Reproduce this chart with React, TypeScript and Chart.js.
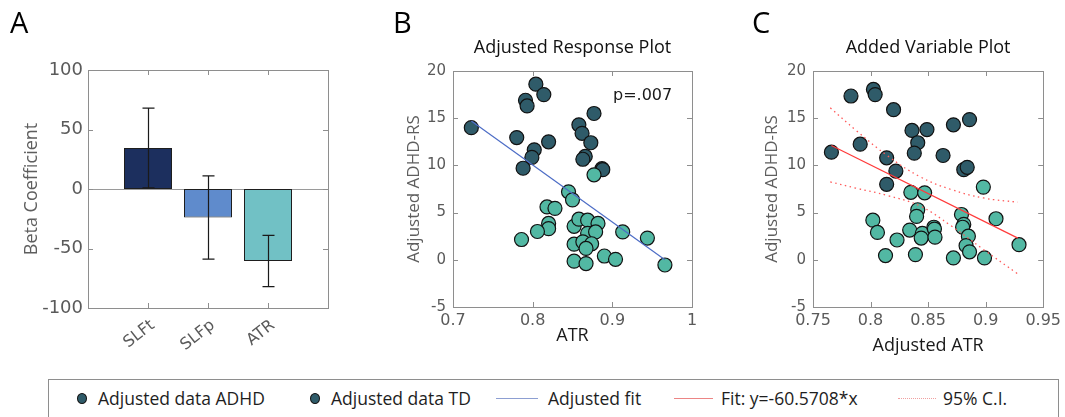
import React, { useEffect, useRef } from "react";
import { Chart, registerables } from "chart.js";
Chart.register(...registerables);

// ---------- Panel A data ----------
const barLabels = ["", "SLFt", "SLFp", "ATR", ""];
const betaValues = [null, 34.5, -24, -60.5, null];
const betaErrLow = [null, 1, -59, -82, null];
const betaErrHigh = [null, 68, 11, -39, null];
const barColors = ["#1c2f5e", "#1c2f5e", "#5f8bcc", "#71c1c5", "#71c1c5"];
const betaTicks = [-100, -50, 0, 50, 100];

// ---------- Panel B data (Adjusted Response Plot) ----------
const respAdhdX = [0.723, 0.804, 0.814, 0.791, 0.793, 0.78, 0.82, 0.802, 0.799, 0.788, 0.877, 0.858, 0.862, 0.873, 0.866, 0.863, 0.887, 0.888];
const respAdhdY = [14.0, 18.6, 17.5, 16.9, 16.3, 12.95, 12.5, 11.65, 10.85, 9.7, 15.5, 14.3, 13.4, 12.4, 10.95, 10.65, 9.65, 9.55];
const respTdX = [0.877, 0.845, 0.85, 0.818, 0.828, 0.82, 0.82, 0.806, 0.786, 0.852, 0.858, 0.869, 0.882, 0.869, 0.879, 0.852, 0.863, 0.874, 0.867, 0.852, 0.867, 0.89, 0.904, 0.913, 0.944, 0.966];
const respTdY = [9.0, 7.2, 6.35, 5.6, 5.45, 3.85, 3.3, 3.0, 2.15, 3.55, 4.3, 4.2, 3.85, 2.8, 2.95, 1.65, 1.9, 1.7, 1.2, -0.15, -0.4, 0.4, 0.05, 2.95, 2.3, -0.55];
const respFitX = [0.723, 0.966];
const respFitY = [14.7, 0.0];
const respXTicks = [0.7, 0.8, 0.9, 1];
const respYTicks = [-5, 0, 5, 10, 15, 20];
const pValueText = "p=.007";

// ---------- Panel C data (Added Variable Plot) ----------
const addedAdhdX = [0.766, 0.783, 0.791, 0.8025, 0.804, 0.82, 0.814, 0.822, 0.814, 0.836, 0.849, 0.841, 0.838, 0.863, 0.872, 0.886, 0.881, 0.884];
const addedAdhdY = [11.4, 17.35, 12.25, 18.05, 17.5, 15.9, 10.8, 9.4, 8.0, 13.7, 13.8, 12.4, 11.3, 11.05, 14.3, 14.85, 9.55, 9.8];
const addedTdX = [0.898, 0.835, 0.847, 0.841, 0.84, 0.802, 0.806, 0.823, 0.813, 0.839, 0.834, 0.845, 0.844, 0.855, 0.8555, 0.856, 0.879, 0.881, 0.88, 0.885, 0.883, 0.886, 0.872, 0.899, 0.909, 0.929];
const addedTdY = [7.7, 7.15, 7.1, 5.3, 4.6, 4.2, 2.9, 2.1, 0.45, 0.55, 3.15, 2.8, 2.3, 3.45, 3.25, 2.4, 4.8, 3.75, 3.45, 2.5, 1.5, 0.85, 0.2, 0.2, 4.35, 1.6];
const addedFitX = [0.766, 0.928];
const addedFitY = [12.1, 2.3];
const ciX = [0.765, 0.787, 0.815, 0.843, 0.87, 0.898, 0.928];
const ciUpper = [16.1, 13.75, 11.0, 8.8, 7.45, 6.55, 6.1];
const ciLower = [8.25, 7.6, 6.8, 5.7, 3.6, 1.1, -1.5];
const addedXTicks = [0.75, 0.8, 0.85, 0.9, 0.95];
const addedYTicks = [-5, 0, 5, 10, 15, 20];

// ---------- Legend ----------
const legendLabels = ["Adjusted data ADHD", "Adjusted data TD", "Adjusted fit", "Fit: y=-60.5708*x", "95% C.I."];

// ---------- styles ----------
const FRAME = "#8e8e8e";
const TICK_TEXT = "#5a5a5a";
const ADHD_COLOR = "#2f5b69";
const TD_COLOR = "#52b8a3";
const POINT_EDGE = "#121212";
const BLUE_FIT = "#4d6dc6";
const RED_FIT = "#ff3b3b";
const UI_FONT = "'Open Sans', 'Noto Sans', sans-serif";
const NUM_FONT = "'DejaVu Sans', sans-serif";

const zip = (xs: number[], ys: number[]) => xs.map((x, i) => ({ x, y: ys[i] }));

function frameTicksPlugin(tickLen: number) {
  return {
    id: "frameTicks",
    afterDatasetsDraw(chart: any) {
      const { ctx, chartArea: a, scales } = chart;
      const xs = scales.x;
      const ys = scales.y;
      ctx.save();
      ctx.strokeStyle = FRAME;
      ctx.lineWidth = 1;
      ctx.beginPath();
      xs.ticks.forEach((_t: any, i: number) => {
        const px = Math.round(xs.getPixelForTick(i)) + 0.5;
        ctx.moveTo(px, a.bottom);
        ctx.lineTo(px, a.bottom - tickLen);
        ctx.moveTo(px, a.top);
        ctx.lineTo(px, a.top + tickLen);
      });
      ys.ticks.forEach((_t: any, i: number) => {
        const py = Math.round(ys.getPixelForTick(i)) + 0.5;
        ctx.moveTo(a.left, py);
        ctx.lineTo(a.left + tickLen, py);
        ctx.moveTo(a.right, py);
        ctx.lineTo(a.right - tickLen, py);
      });
      ctx.stroke();
      ctx.strokeRect(Math.round(a.left) + 0.5, Math.round(a.top) + 0.5, Math.round(a.width), Math.round(a.height));
      ctx.restore();
    },
  };
}

type TextItem = { text: string; x: number | ((a: any) => number); y: number; font: string; color: string; align?: CanvasTextAlign };

function textPlugin(items: TextItem[]) {
  return {
    id: "panelText",
    afterDraw(chart: any) {
      const { ctx, chartArea } = chart;
      ctx.save();
      items.forEach((it) => {
        ctx.font = it.font;
        ctx.fillStyle = it.color;
        ctx.textAlign = it.align || "left";
        ctx.textBaseline = "middle";
        const x = typeof it.x === "function" ? it.x(chartArea) : it.x;
        ctx.fillText(it.text, x, it.y);
      });
      ctx.restore();
    },
  };
}

const errorBarPlugin = {
  id: "errorBars",
  beforeDatasetsDraw(chart: any) {
    const { ctx, chartArea: a, scales } = chart;
    const py = Math.round(scales.y.getPixelForValue(0)) + 0.5;
    ctx.save();
    ctx.strokeStyle = "#9a9a9a";
    ctx.lineWidth = 1;
    ctx.beginPath();
    ctx.moveTo(a.left, py);
    ctx.lineTo(a.right, py);
    ctx.stroke();
    ctx.restore();
  },
  afterDatasetsDraw(chart: any) {
    const { ctx, scales } = chart;
    ctx.save();
    ctx.strokeStyle = "#1a1a1a";
    ctx.lineWidth = 1.2;
    ctx.beginPath();
    betaValues.forEach((v, i) => {
      if (v === null) return;
      const px = Math.round(scales.x.getPixelForValue(i)) + 0.5;
      const lo = scales.y.getPixelForValue(betaErrLow[i] as number);
      const hi = scales.y.getPixelForValue(betaErrHigh[i] as number);
      ctx.moveTo(px, lo);
      ctx.lineTo(px, hi);
      ctx.moveTo(px - 6, lo);
      ctx.lineTo(px + 6, lo);
      ctx.moveTo(px - 6, hi);
      ctx.lineTo(px + 6, hi);
    });
    ctx.stroke();
    ctx.restore();
  },
};

const hiddenGrid = { display: false, drawTicks: false };

function scatterScales(xMin: number, xMax: number, xTicks: number[], yTicks: number[], xTitle: string, yAxisWidth: number, yTitlePad: number, xTitlePad: number, xAxisHeight: number) {
  return {
    x: {
      type: "linear",
      min: xMin,
      max: xMax,
      grid: hiddenGrid,
      border: { display: false },
      afterBuildTicks: (s: any) => {
        s.ticks = xTicks.map((v) => ({ value: v }));
      },
      ticks: { font: { family: NUM_FONT, size: 16 }, color: TICK_TEXT, padding: 4, maxRotation: 0, callback: (v: any) => String(v) },
      title: { display: true, text: xTitle, font: { family: UI_FONT, size: 18 }, color: "#1a1a1a", padding: { top: 0, bottom: xTitlePad } },
      afterFit: (s: any) => {
        s.height = xAxisHeight;
      },
    },
    y: {
      type: "linear",
      min: -5,
      max: 20,
      grid: hiddenGrid,
      border: { display: false },
      afterBuildTicks: (s: any) => {
        s.ticks = yTicks.map((v) => ({ value: v }));
      },
      ticks: { font: { family: NUM_FONT, size: 15 }, color: TICK_TEXT, padding: 7, callback: (v: any) => String(v) },
      title: { display: true, text: "Adjusted ADHD-RS", font: { family: UI_FONT, size: 17 }, color: "#5e5e5e", padding: { top: yTitlePad, bottom: 0 } },
      afterFit: (s: any) => {
        s.width = yAxisWidth;
      },
    },
  };
}

const pointStyle = (color: string) => ({
  backgroundColor: color,
  borderColor: POINT_EDGE,
  borderWidth: 1.2,
  pointRadius: 7,
  pointHoverRadius: 7,
});

function makeConfigA(): any {
  return {
    type: "bar",
    data: {
      labels: barLabels,
      datasets: [
        {
          data: betaValues,
          backgroundColor: barColors,
          borderColor: "#1e1e1e",
          borderWidth: 1,
          borderSkipped: false,
          categoryPercentage: 0.8,
          barPercentage: 1,
        },
      ],
    },
    options: {
      animation: false,
      responsive: false,
      layout: { padding: { left: 0, top: 70, right: 32, bottom: 0 } },
      plugins: { legend: { display: false }, tooltip: { enabled: false } },
      scales: {
        x: {
          type: "category",
          offset: false,
          grid: hiddenGrid,
          border: { display: false },
          ticks: { font: { family: NUM_FONT, size: 16 }, color: TICK_TEXT, minRotation: 38, maxRotation: 38, padding: 8, labelOffset: 5, autoSkip: false },
          afterFit: (s: any) => {
            s.height = 57;
          },
        },
        y: {
          type: "linear",
          min: -100,
          max: 100,
          grid: hiddenGrid,
          border: { display: false },
          afterBuildTicks: (s: any) => {
            s.ticks = betaTicks.map((v) => ({ value: v }));
          },
          ticks: { font: { family: NUM_FONT, size: 18 }, color: TICK_TEXT, padding: 5 },
          title: { display: true, text: "Beta Coefficient", font: { family: UI_FONT, size: 18 }, color: "#5e5e5e", padding: { top: 21, bottom: 0 } },
          afterFit: (s: any) => {
            s.width = 88;
          },
        },
      },
    },
    plugins: [
      errorBarPlugin,
      frameTicksPlugin(5),
      textPlugin([{ text: "A", x: 10, y: 25, font: `29px ${UI_FONT}`, color: "#000" }]),
    ],
  };
}

function makeConfigB(): any {
  return {
    type: "scatter",
    data: {
      datasets: [
        { data: zip(respFitX, respFitY), showLine: true, borderColor: BLUE_FIT, borderWidth: 1.2, pointRadius: 0, order: 0 },
        { data: zip(respTdX, respTdY), ...pointStyle(TD_COLOR), order: 1 },
        { data: zip(respAdhdX, respAdhdY), ...pointStyle(ADHD_COLOR), order: 2 },
      ],
    },
    options: {
      animation: false,
      responsive: false,
      layout: { padding: { left: 0, top: 71, right: 18, bottom: 0 } },
      plugins: { legend: { display: false }, tooltip: { enabled: false } },
      scales: scatterScales(0.7, 1, respXTicks, respYTicks, "ATR", 93, 44, 18, 58),
    },
    plugins: [
      frameTicksPlugin(5),
      textPlugin([
        { text: "B", x: 33, y: 25, font: `29px ${UI_FONT}`, color: "#000" },
        { text: "Adjusted Response Plot", x: (a: any) => (a.left + a.right) / 2, y: 48, font: `18px ${UI_FONT}`, color: "#111", align: "center" },
        { text: pValueText, x: 253, y: 96, font: `16px ${NUM_FONT}`, color: "#1a1a1a" },
      ]),
    ],
  };
}

function makeConfigC(): any {
  const ciStyle = { showLine: true, borderColor: "#ff5a5a", borderWidth: 1.3, borderDash: [1.5, 3.5], pointRadius: 0, tension: 0.4, order: 0 };
  return {
    type: "scatter",
    data: {
      datasets: [
        { data: zip(addedFitX, addedFitY), showLine: true, borderColor: RED_FIT, borderWidth: 1.2, pointRadius: 0, order: 0 },
        { data: zip(ciX, ciUpper), ...ciStyle },
        { data: zip(ciX, ciLower), ...ciStyle },
        { data: zip(addedTdX, addedTdY), ...pointStyle(TD_COLOR), order: 1 },
        { data: zip(addedAdhdX, addedAdhdY), ...pointStyle(ADHD_COLOR), order: 2 },
      ],
    },
    options: {
      animation: false,
      responsive: false,
      layout: { padding: { left: 0, top: 71, right: 13, bottom: 0 } },
      plugins: { legend: { display: false }, tooltip: { enabled: false } },
      scales: scatterScales(0.75, 0.95, addedXTicks, addedYTicks, "Adjusted ATR", 103, 52, 8, 58),
    },
    plugins: [
      frameTicksPlugin(5),
      textPlugin([
        { text: "C", x: 42, y: 25, font: `29px ${UI_FONT}`, color: "#000" },
        { text: "Added Variable Plot", x: (a: any) => (a.left + a.right) / 2, y: 48, font: `18px ${UI_FONT}`, color: "#111", align: "center" },
      ]),
    ],
  };
}

function Panel({ make, left, width, height }: { make: () => any; left: number; width: number; height: number }) {
  const ref = useRef<HTMLCanvasElement>(null);
  useEffect(() => {
    if (!ref.current) return;
    const chart = new Chart(ref.current, make());
    return () => chart.destroy();
  }, [make]);
  return (
    <canvas
      ref={ref}
      width={width}
      height={height}
      style={{ position: "absolute", left, top: 0, width, height }}
    />
  );
}

function LegendLine({ x1, x2, color, dotted }: { x1: number; x2: number; color: string; dotted?: boolean }) {
  return (
    <div
      style={{
        position: "absolute",
        left: x1,
        top: 18,
        width: x2 - x1,
        height: 0,
        borderTop: dotted ? `1.5px dotted ${color}` : `1.5px solid ${color}`,
      }}
    />
  );
}

function LegendMarker({ cx }: { cx: number }) {
  return (
    <div
      style={{
        position: "absolute",
        left: cx - 5,
        top: 13,
        width: 8,
        height: 9,
        borderRadius: "50%",
        background: ADHD_COLOR,
        border: `1px solid ${POINT_EDGE}`,
      }}
    />
  );
}

function LegendText({ x, text }: { x: number; text: string }) {
  return (
    <div
      style={{
        position: "absolute",
        left: x,
        top: 6,
        fontFamily: UI_FONT,
        fontSize: 17.5,
        lineHeight: "24px",
        color: "#1e1e1e",
        whiteSpace: "nowrap",
      }}
    >
      {text}
    </div>
  );
}

export default function App() {
  const L = 48; // legend box left, used for relative positions
  return (
    <div style={{ position: "absolute", left: 0, top: 0, width: 1065, height: 417, overflow: "hidden", background: "#fff" }}>
      <Panel make={makeConfigA} left={0} width={360} height={365} />
      <Panel make={makeConfigB} left={360} width={350} height={365} />
      <Panel make={makeConfigC} left={710} width={355} height={365} />
      <div
        style={{
          position: "absolute",
          left: L,
          top: 379,
          width: 1011,
          height: 60,
          border: "1px solid #8e8e8e",
          boxSizing: "border-box",
          background: "#fff",
        }}
      >
        <LegendMarker cx={81 - L} />
        <LegendText x={97 - L} text={legendLabels[0]} />
        <LegendMarker cx={314 - L} />
        <LegendText x={330 - L} text={legendLabels[1]} />
        <LegendLine x1={495 - L} x2={537 - L} color="#8d9fd2" />
        <LegendText x={547 - L} text={legendLabels[2]} />
        <LegendLine x1={673 - L} x2={712 - L} color="#ec8585" />
        <LegendText x={720 - L} text={legendLabels[3]} />
        <LegendLine x1={897 - L} x2={935 - L} color="#f0a0a0" dotted />
        <LegendText x={942 - L} text={legendLabels[4]} />
      </div>
    </div>
  );
}
